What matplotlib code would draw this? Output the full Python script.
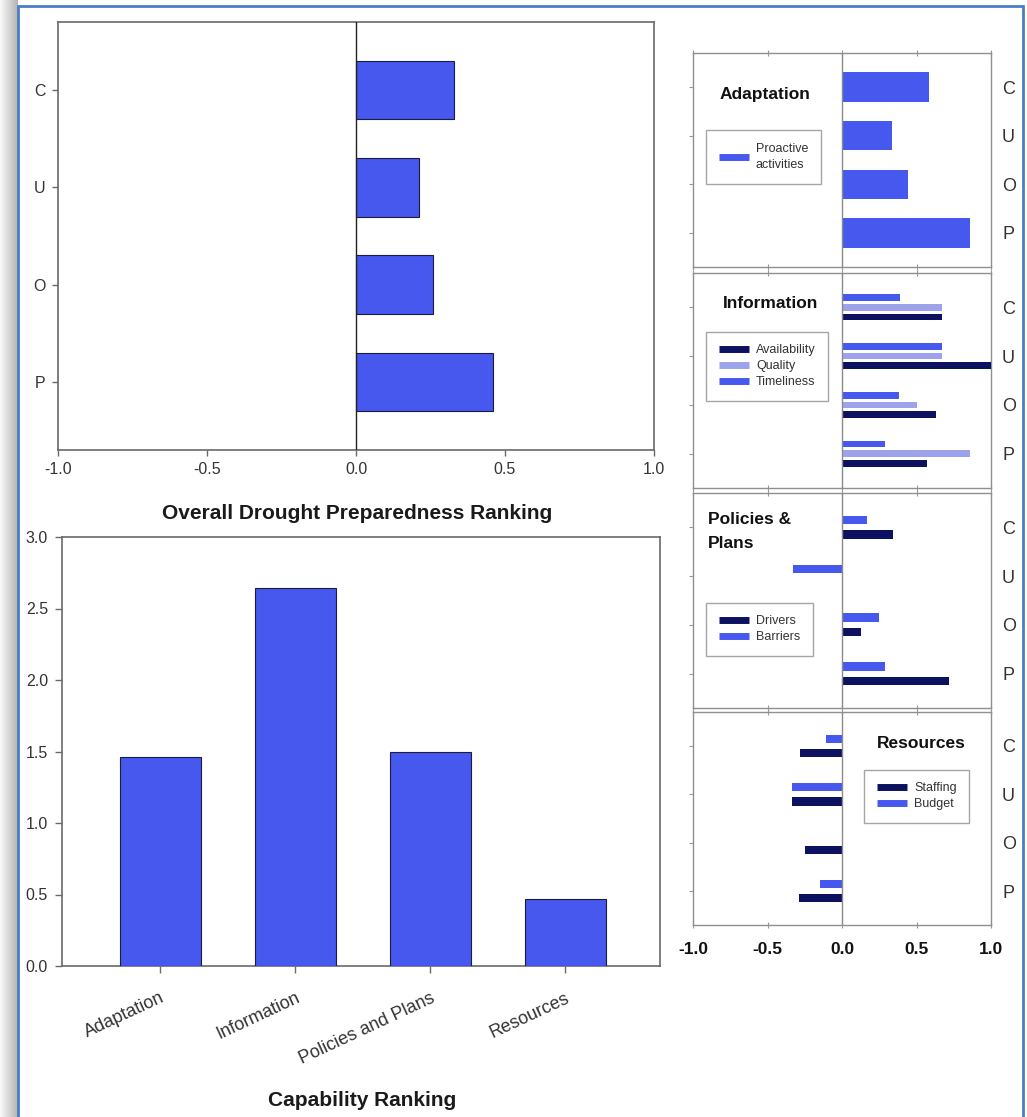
import matplotlib
matplotlib.use("Agg")
import matplotlib.pyplot as plt
import numpy as np
from matplotlib.lines import Line2D

plt.rcParams['font.family'] = ['Liberation Sans', 'DejaVu Sans']

# ---------------- data ----------------
sites = ["P", "O", "U", "C"]                       # bottom -> top
overall = [0.46, 0.26, 0.21, 0.33]                 # Overall Drought Preparedness Ranking

capabilities = ["Adaptation", "Information", "Policies and Plans", "Resources"]
capability_rank = [1.46, 2.64, 1.50, 0.47]

adapt_proactive = [0.86, 0.44, 0.335, 0.585]

info_availability = [0.57, 0.63, 1.00, 0.67]
info_quality = [0.86, 0.50, 0.67, 0.67]
info_timeliness = [0.29, 0.38, 0.67, 0.39]

pol_drivers = [0.72, 0.13, 0.0, 0.34]
pol_barriers = [0.29, 0.25, -0.33, 0.17]

res_staffing = [-0.29, -0.25, -0.335, -0.28]
res_budget = [-0.145, 0.0, -0.335, -0.11]

x_ticks = [-1.0, -0.5, 0.0, 0.5, 1.0]
cap_yticks = [0.0, 0.5, 1.0, 1.5, 2.0, 2.5, 3.0]

# ---------------- style ----------------
BLUE = '#4658EE'
LIGHT = '#9DA3EA'
DARK = '#0C1160'
EDGE = '#1c1c40'
SPINE = '#6a6a6a'
TXT = '#333333'

W, H = 1027, 1117
fig = plt.figure(figsize=(W / 100, H / 100), dpi=100)


def rect(l, t, r, b):
    return [l / W, 1 - b / H, (r - l) / W, (b - t) / H]


def fx(x):
    return x / W


def fy(y):
    return 1 - y / H


# left shadow + blue frame
sh = fig.add_axes([0, 0, 18 / W, 1])
grad = np.linspace(0.98, 0.70, 60).reshape(1, -1)
sh.imshow(grad, aspect='auto', cmap='gray', vmin=0, vmax=1, extent=[0, 1, 0, 1])
sh.axis('off')
frame = plt.Rectangle((18 / W, -0.01), (1023 - 18) / W, 1.01 - 6 / H, transform=fig.transFigure,
                      fill=False, edgecolor='#4A7EC4', linewidth=2.0, zorder=10)
fig.add_artist(frame)

ypos = np.arange(len(sites))

# ---------------- top-left: overall ranking ----------------
ax1 = fig.add_axes(rect(58, 22, 654, 450))
ax1.barh(ypos, overall, height=0.6, color=BLUE, edgecolor=EDGE, linewidth=0.8, zorder=3)
ax1.axvline(0, color='#222222', lw=1.0, zorder=4)
ax1.set_xlim(-1, 1)
ax1.set_ylim(-0.7, 3.7)
ax1.set_yticks(ypos)
ax1.set_yticklabels(sites)
ax1.set_xticks(x_ticks)
ax1.set_xticklabels([f"{v:.1f}" for v in x_ticks])
ax1.tick_params(direction='out', length=4, width=1, color=SPINE, labelsize=11.5, labelcolor=TXT, pad=5)
for s in ax1.spines.values():
    s.set_color(SPINE)
    s.set_linewidth(1.2)
fig.text(fx(357), fy(513), 'Overall Drought Preparedness Ranking', ha='center', va='center',
         fontsize=15, fontweight='bold', color='#1a1a1a')

# ---------------- bottom-left: capability ranking ----------------
ax2 = fig.add_axes(rect(62, 537, 660, 966))
xpos = np.arange(len(capabilities))
ax2.bar(xpos, capability_rank, width=0.6, color=BLUE, edgecolor=EDGE, linewidth=0.8, zorder=3)
ax2.set_xlim(-0.726, 3.70)
ax2.set_ylim(0, 3.0)
ax2.set_yticks(cap_yticks)
ax2.set_yticklabels([f"{v:.1f}" for v in cap_yticks])
ax2.set_xticks(xpos)
ax2.set_xticklabels(capabilities, rotation=25, ha='right', rotation_mode='anchor')
ax2.tick_params(direction='out', length=5, width=1, color=SPINE, labelsize=11.5, labelcolor=TXT, pad=5)
ax2.tick_params(axis='x', labelsize=13, pad=12)
for s in ax2.spines.values():
    s.set_color(SPINE)
    s.set_linewidth(1.2)
fig.text(fx(362), fy(1100), 'Capability Ranking', ha='center', va='center',
         fontsize=15, fontweight='bold', color='#1a1a1a')

# ---------------- right panels ----------------
panels = [(53, 267), (273, 488), (493, 708), (712, 925)]
axes_r = []
for i, (t, b) in enumerate(panels):
    ax = fig.add_axes(rect(693, t, 991, b))
    ax.set_xlim(-1, 1)
    ax.set_ylim(-0.7, 3.7)
    ax.set_yticks(ypos)
    ax.set_yticklabels(sites)
    ax.set_xticks(x_ticks)
    ax.axvline(0, color='#8a8a8a', lw=1.0, zorder=4)
    ax.tick_params(axis='y', direction='out', length=3, width=0.8, color='#999999',
                   left=True, right=False, labelleft=False, labelright=True,
                   labelsize=13, labelcolor=TXT, pad=5)
    ax.tick_params(axis='x', direction='inout', length=4, width=0.8, color='#999999',
                   top=True, bottom=True, labelbottom=(i == 3), labelsize=12.5,
                   labelcolor='#111111', pad=10)
    if i == 3:
        ax.set_xticklabels([f"{v:.1f}" for v in x_ticks], fontweight='bold')
    for s in ax.spines.values():
        s.set_color('#8f8f8f')
        s.set_linewidth(1.0)
    axes_r.append(ax)

LEG_KW = dict(frameon=True, fancybox=False, edgecolor='#8f8f8f', fontsize=9,
              handlelength=2.4, handletextpad=0.6, borderpad=1.0, labelspacing=0.3,
              borderaxespad=0.0, loc='upper left', bbox_transform=fig.transFigure)


def handle(c):
    return Line2D([0], [0], color=c, lw=5, solid_capstyle='butt')


# Adaptation
ax = axes_r[0]
ax.barh(ypos, adapt_proactive, height=0.6, color=BLUE, edgecolor='none', zorder=3)
fig.text(fx(765), fy(94), 'Adaptation', ha='center', va='center', fontsize=12.5,
         fontweight='bold', color='#111111')
lg = ax.legend([handle(BLUE)], ['Proactive\nactivities'], bbox_to_anchor=(fx(706), fy(130)), **LEG_KW)
for tx in lg.get_texts():
    tx.set_color(TXT)
    tx.set_linespacing(1.5)

# Information
ax = axes_r[1]
ax.barh(ypos + 0.2, info_timeliness, height=0.14, color=BLUE, edgecolor='none', zorder=3)
ax.barh(ypos, info_quality, height=0.14, color=LIGHT, edgecolor='none', zorder=3)
ax.barh(ypos - 0.2, info_availability, height=0.14, color=DARK, edgecolor='none', zorder=3)
fig.text(fx(771), fy(304), 'Information', ha='center', va='center', fontsize=12.5,
         fontweight='bold', color='#111111')
lg = ax.legend([handle(DARK), handle(LIGHT), handle(BLUE)], ['Availability', 'Quality', 'Timeliness'],
               bbox_to_anchor=(fx(706), fy(332)), **LEG_KW)
for tx in lg.get_texts():
    tx.set_color(TXT)

# Policies & Plans
ax = axes_r[2]
ax.barh(ypos + 0.15, pol_barriers, height=0.17, color=BLUE, edgecolor='none', zorder=3)
ax.barh(ypos - 0.15, pol_drivers, height=0.17, color=DARK, edgecolor='none', zorder=3)
fig.text(fx(708), fy(520), 'Policies &', ha='left', va='center', fontsize=12.5,
         fontweight='bold', color='#111111')
fig.text(fx(708), fy(543), 'Plans', ha='left', va='center', fontsize=12.5,
         fontweight='bold', color='#111111')
lg = ax.legend([handle(DARK), handle(BLUE)], ['Drivers', 'Barriers'],
               bbox_to_anchor=(fx(706), fy(603)), **LEG_KW)
for tx in lg.get_texts():
    tx.set_color(TXT)

# Resources
ax = axes_r[3]
ax.barh(ypos + 0.15, res_budget, height=0.17, color=BLUE, edgecolor='none', zorder=3)
ax.barh(ypos - 0.15, res_staffing, height=0.17, color=DARK, edgecolor='none', zorder=3)
fig.text(fx(921), fy(744), 'Resources', ha='center', va='center', fontsize=12.5,
         fontweight='bold', color='#111111')
lg = ax.legend([handle(DARK), handle(BLUE)], ['Staffing', 'Budget'],
               bbox_to_anchor=(fx(864), fy(770)), **LEG_KW)
for tx in lg.get_texts():
    tx.set_color(TXT)

fig.savefig('out.png', dpi=100, facecolor='white')
